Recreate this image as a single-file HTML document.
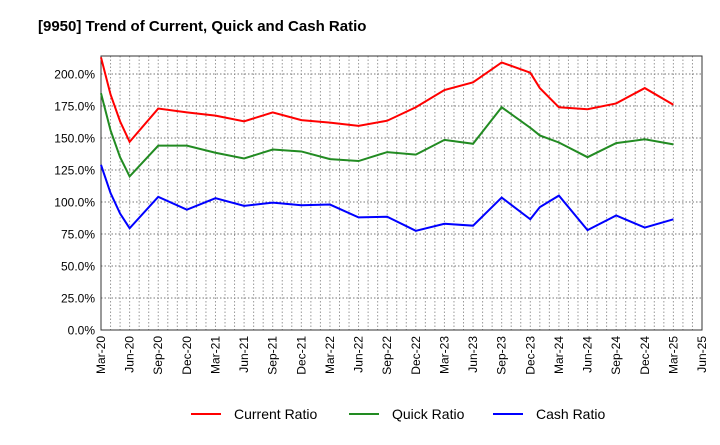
<!DOCTYPE html>
<html><head><meta charset="utf-8"><style>
body{margin:0;background:#fff;font-family:"Liberation Sans",sans-serif}
svg text{font-family:"Liberation Sans",sans-serif}
</style></head><body>
<svg width="720" height="440">
<text x="38" y="31" font-size="15" font-weight="bold" fill="#000">[9950]  Trend of Current, Quick and Cash Ratio</text>
<g id="grid"></g><g id="axes"></g><g id="series"></g>
<g>
<g><line x1="191" y1="414" x2="221" y2="414" stroke="#f00" stroke-width="2"/><text x="234" y="419" font-size="14">Current Ratio</text></g>
<g><line x1="349" y1="414" x2="379" y2="414" stroke="#228b22" stroke-width="2"/><text x="392" y="419" font-size="14">Quick Ratio</text></g>
<g><line x1="493" y1="414" x2="523" y2="414" stroke="#00f" stroke-width="2"/><text x="536" y="419" font-size="14">Cash Ratio</text></g>
</g>
</svg>
<script>
const months=[0,1,2,3,6,9,12,15,18,21,24,27,30,33,36,39,42,45,46,48,51,54,57,60];
const currentRatio=[213,184,163,147,173,170,167.5,163,170,164,162,159.5,163.5,174,187.5,193.5,209,201,189,174,172.5,177,189,176];
const quickRatio=[185,156,135,120,144,144,138.5,134,141,139.5,133.5,132,139,137,148.5,145.5,174,158,152,146.5,135,146,149,145];
const cashRatio=[129,107,91,79.5,104,94,103,97,99.5,97.5,98,88,88.5,77.5,83,81.5,103.5,86.5,96,105,78,89.5,80,86.5];
const yTicks=[0,25,50,75,100,125,150,175,200];
const xTickLabels=["Mar-20","Jun-20","Sep-20","Dec-20","Mar-21","Jun-21","Sep-21","Dec-21","Mar-22","Jun-22","Sep-22","Dec-22","Mar-23","Jun-23","Sep-23","Dec-23","Mar-24","Jun-24","Sep-24","Dec-24","Mar-25","Jun-25"];
const L=101,R=702,T=56,B=330,NM=63;
const xs=m=>L+(R-L)*m/NM;
const ys=v=>B-v*(B-74)/200;
const NS="http://www.w3.org/2000/svg";
function mk(tag,attrs,parent){const e=document.createElementNS(NS,tag);for(const k in attrs)e.setAttribute(k,attrs[k]);parent.appendChild(e);return e;}
const grid=document.getElementById('grid'),axes=document.getElementById('axes'),series=document.getElementById('series');
for(let m=1;m<NM;m++){const l=mk('line',{x1:xs(m),x2:xs(m),y1:T,y2:B,stroke:'#999','stroke-dasharray':'1.5,2','stroke-width':1},grid);

}
yTicks.forEach(v=>{if(v>0){const l=mk('line',{x1:L,x2:R,y1:ys(v),y2:ys(v),stroke:'#777','stroke-dasharray':'1.5,2','stroke-width':1},grid);

}
const t=mk('text',{x:L-6,y:ys(v)+4.5,'text-anchor':'end','font-size':12},axes);t.textContent=v.toFixed(1)+'%';

});
const fr=mk('rect',{x:L,y:T,width:R-L,height:B-T,fill:'none',stroke:'#333','stroke-width':1},axes);


xTickLabels.forEach((s,i)=>{const x=xs(i*3);const t=mk('text',{x:x+4,y:B+6,'text-anchor':'end','font-size':12,transform:`rotate(-90 ${x+4} ${B+6})`},axes);t.textContent=s;

});
[[currentRatio,'#f00','current-ratio-line'],[quickRatio,'#228b22','quick-ratio-line'],[cashRatio,'#00f','cash-ratio-line']].forEach(([d,c,n])=>{
const p=mk('polyline',{points:d.map((v,i)=>xs(months[i])+','+ys(v)).join(' '),fill:'none',stroke:c,'stroke-width':2},series);

});
</script>
</body></html>
